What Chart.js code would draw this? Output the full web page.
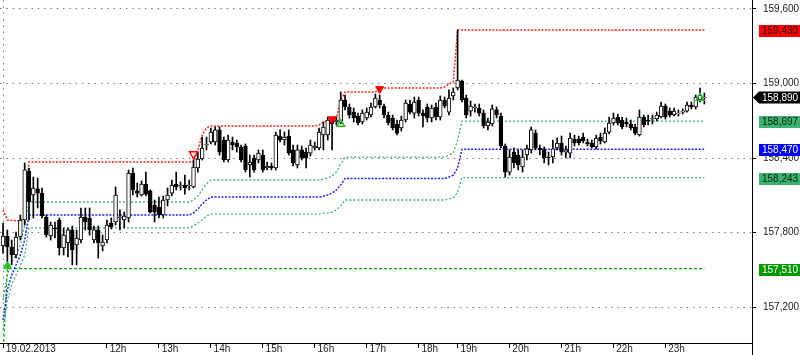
<!DOCTYPE html>
<html><head><meta charset="utf-8">
<script src="https://cdn.jsdelivr.net/npm/chart.js@4.4.0/dist/chart.umd.min.js"></script>
<style>html,body{margin:0;padding:0;background:#fff;overflow:hidden}</style>
</head><body>
<canvas id="c" width="800" height="355"></canvas>
<script>
// ---- candle data (5-minute bars, index 0 = 10:00) ----
const openP = [
157692,157772,157684,157619,157764,157901,158295,158102,158151,158118,
157925,157772,157837,157901,157676,157716,157821,157700,157740,157925,
157917,157740,157821,157692,157740,157877,157885,157917,157901,157917,
158279,158135,158102,158191,158135,158022,158006,157941,158062,158118,
158191,158175,158183,158175,158167,158320,158392,158505,158529,158529,
158626,158545,158384,158529,158521,158489,158497,158344,158400,158384,
158424,158320,158336,158320,158577,158545,158577,158465,158344,158465,
158448,158440,158481,158481,158585,158585,158698,158690,158682,158867,
158811,158770,158738,158690,158722,158746,158811,158867,158819,158746,
158722,158674,158642,158706,158835,158762,158867,158762,158811,158722,
158811,158730,158867,158770,158899,158964,159020,158883,158778,158803,
158803,158762,158658,158674,158787,158738,158497,158287,158448,158424,
158328,158424,158465,158601,158481,158465,158408,158408,158481,158521,
158448,158440,158553,158553,158569,158529,158521,158489,158569,158529,
158609,158682,158730,158706,158690,158674,158650,158585,158730,158706,
158714,158714,158730,158819,158778,158746,158754,158770,158778,158827,
158811,158867,158883];
const highP = [
157877,157821,157740,157804,157941,158360,158320,158247,158239,158159,
157941,157885,157885,157917,157837,157837,157853,157821,157998,157998,
157998,157853,157853,157780,157901,157917,158167,157982,157965,158304,
158320,158199,158215,158287,158143,158062,158086,158094,158159,158223,
158287,158207,158263,158223,158384,158448,158569,158569,158642,158650,
158650,158569,158585,158569,158545,158505,158513,158424,158424,158465,
158465,158368,158360,158609,158626,158609,158626,158505,158505,158497,
158481,158545,158529,158642,158690,158730,158722,158730,158931,158907,
158835,158803,158762,158787,158803,158843,158915,158907,158835,158770,
158746,158706,158738,158867,158867,158891,158891,158787,158835,158827,
158843,158899,158891,158948,158964,159430,159028,158907,158859,158835,
158835,158787,158722,158827,158811,158762,158513,158465,158481,158465,
158465,158505,158650,158626,158505,158489,158448,158545,158561,158577,
158497,158601,158585,158577,158601,158553,158545,158585,158601,158642,
158730,158762,158754,158730,158722,158706,158674,158787,158746,158746,
158746,158770,158851,158835,158803,158803,158787,158795,158851,158851,
158907,158964,158923];
const lowP = [
157635,157563,157539,157595,157740,157861,157901,157917,157998,157917,
157764,157740,157756,157619,157619,157603,157539,157539,157716,157821,
157780,157716,157595,157652,157716,157829,157861,157821,157837,157885,
158102,158086,158094,158094,157957,157885,157917,157917,158014,158094,
158143,158143,158110,158143,158159,158287,158384,158465,158513,158505,
158424,158368,158368,158465,158448,158368,158287,158247,158287,158360,
158287,158304,158304,158304,158529,158505,158424,158336,158320,158384,
158320,158416,158465,158465,158465,158545,158465,158666,158674,158787,
158722,158690,158666,158674,158706,158730,158803,158803,158722,158666,
158626,158585,158617,158690,158754,158722,158738,158650,158690,158690,
158706,158706,158803,158746,158867,158948,158851,158722,158738,158770,
158738,158642,158626,158658,158722,158481,158247,158263,158320,158304,
158287,158384,158440,158465,158424,158360,158344,158360,158465,158424,
158400,158400,158497,158505,158521,158497,158481,158473,158513,158521,
158593,158666,158666,158634,158650,158626,158585,158577,158650,158666,
158674,158698,158722,158714,158730,158738,158738,158754,158770,158795,
158795,158851,158835];
const closeP = [
157772,157684,157619,157764,157901,158304,158046,158159,158118,157933,
157780,157861,157829,157676,157780,157821,157660,157756,157925,157885,
157821,157821,157716,157724,157861,157845,158102,157925,157933,158279,
158143,158118,158191,158110,157965,157965,157941,158062,158102,158183,
158167,158183,158159,158183,158328,158392,158481,158513,158609,158626,
158448,158384,158545,158505,158489,158384,158304,158368,158304,158440,
158304,158336,158320,158585,158545,158569,158440,158360,158465,158400,
158400,158505,158497,158609,158650,158706,158674,158706,158867,158811,
158746,158722,158682,158762,158770,158811,158883,158827,158746,158682,
158642,158601,158706,158843,158770,158851,158762,158738,158722,158803,
158730,158867,158819,158883,158931,159028,158867,158746,158819,158811,
158762,158658,158690,158795,158746,158497,158287,158408,158360,158344,
158408,158473,158626,158481,158465,158400,158400,158473,158521,158448,
158465,158561,158521,158521,158537,158513,158489,158561,158537,158601,
158682,158722,158682,158650,158674,158642,158601,158730,158666,158698,
158722,158746,158819,158730,158746,158778,158762,158778,158827,158811,
158891,158907,158890];

// ---- indicator lines (bar index -> price at the visible breakpoints) ----
const resistanceIdx = [0,1,4,5,6,44,45,46,47,48,72,73,74,75,76,77,78,79,86,87,101,102,103,104,105,162];
const resistanceVal = [157982,157901,157893,157925,158368,158368,158465,158585,158642,158658,158658,158666,158690,158698,158706,158722,158867,158931,158931,158964,158964,158972,158996,159012,159430,159430];
const bandIdx   = [0,1,2,3,4,5,6,43,44,45,46,47,48,73,74,75,76,77,78,79,102,103,104,105,106,162];
const upperBand = [157257,157458,157563,157619,157700,157861,158046,158046,158062,158094,158143,158191,158223,158223,158231,158239,158255,158287,158352,158408,158408,158424,158440,158545,158697,158697];
const midBand   = [157096,157338,157458,157539,157619,157740,157941,157941,157957,157990,158030,158062,158086,158086,158094,158102,158118,158143,158183,158236,158236,158247,158263,158320,158470,158470];
const lowerBand = [157016,157257,157379,157458,157539,157619,157837,157837,157853,157877,157901,157933,157949,157949,157957,157957,157965,157982,158014,158062,158062,158070,158078,158126,158243,158243];
const supportIdx = [0,1,162];
const supportVal = [156800,157510,157510];

// ---- signal markers ----
const buySolidIdx = [1],        buySolidVal = [157531];
const buyHollowIdx = [78,161],  buyHollowVal = [158674,158883];
const sellSolidIdx = [76,87],   sellSolidVal = [158714,158956];
const sellHollowIdx = [44],     sellHollowVal = [158432];

// ---- axes ----
const xTickIdx = [0,24,36,48,60,72,84,96,105,117,129,141,153];
const xTickLabels = ['19.02.2013','12h','13h','14h','15h','16h','17h','18h','19h','20h','21h','22h','23h'];
const yTicks = [157200,157800,158400,159000,159600];
const tagValues = [159430,158890,158697,158470,158243,157510];
const tagStyles = [
  {bg:'#ff0000', fg:'#200000', arrow:false},
  {bg:'#000000', fg:'#ffffff', arrow:true},
  {bg:'#3cb371', fg:'#08200f', arrow:false},
  {bg:'#0000ff', fg:'#ffffff', arrow:false},
  {bg:'#3cb371', fg:'#08200f', arrow:false},
  {bg:'#009a00', fg:'#ffffff', arrow:false}
];

const FONT = {family:"'Liberation Sans', Arial, sans-serif", size:10};
const pts = (xs, ys) => xs.map((x, k) => ({x, y: ys[k]}));
const bodies = openP.map((o, i) => ({x: i, y: [o, closeP[i]]}));
const wicks = openP.map((o, i) => ({x: i, y: [lowP[i], highP[i]]}));
const fmt = v => Math.round(v).toLocaleString('en-US');

const lineDs = (xs, ys, color, dash, w) => ({
  type:'line', data: pts(xs, ys), borderColor: color, borderWidth: w, borderDash: dash,
  pointRadius: 0, tension: 0, fill: false, order: 3
});
const markDs = (xs, ys, color, filled, down) => ({
  type:'scatter', data: pts(xs, ys), pointStyle:'triangle', pointRadius: 4.6,
  rotation: down ? 180 : 0, backgroundColor: filled ? color : 'rgba(255,255,255,0)',
  borderColor: color, borderWidth: filled ? 1 : 1.4, order: 0
});

const tagPlugin = {
  id:'tags',
  afterDraw(chart) {
    const ctx = chart.ctx, ys = chart.scales.y, ca = chart.chartArea;
    ctx.save();
    ctx.strokeStyle = '#000'; ctx.lineWidth = 1;
    ctx.beginPath(); ctx.moveTo(Math.round(ca.right) + 0.5, ca.bottom); ctx.lineTo(Math.round(ca.right) + 0.5, chart.height); ctx.stroke();
    ctx.font = "10px 'Liberation Sans', Arial, sans-serif";
    ctx.textBaseline = 'middle'; ctx.textAlign = 'left';
    tagValues.forEach((v, k) => {
      const st = tagStyles[k];
      const y = Math.round(ys.getPixelForValue(v));
      const x0 = ca.right + 7, h = 11;
      ctx.fillStyle = st.bg;
      ctx.beginPath();
      if (st.arrow) {
        ctx.moveTo(ca.right + 1, y + 0.5);
        ctx.lineTo(x0, y - 5.5); ctx.lineTo(chart.width, y - 5.5);
        ctx.lineTo(chart.width, y + 6.5); ctx.lineTo(x0, y + 6.5); ctx.closePath();
      } else {
        ctx.rect(x0, y - 5, chart.width - x0, h + 1);
      }
      ctx.fill();
      ctx.fillStyle = st.fg;
      ctx.fillText(fmt(v), x0 + 3, y + 1);
    });
    ctx.restore();
  }
};

new Chart(document.getElementById('c'), {
  type: 'bar',
  data: { datasets: [
    markDs(buySolidIdx, buySolidVal, '#22c322', true, false),
    markDs(buyHollowIdx, buyHollowVal, '#22b822', false, false),
    markDs(sellSolidIdx, sellSolidVal, '#ff0000', true, true),
    markDs(sellHollowIdx, sellHollowVal, '#ff0000', false, true),
    { type:'bar', data: bodies, grouped:false, barThickness: 3.8, borderSkipped:false,
      backgroundColor: c => (closeP[c.dataIndex] > openP[c.dataIndex] ? '#ffffff' : '#000000'),
      borderColor:'#000', borderWidth: 1, order: 1 },
    { type:'bar', data: wicks, grouped:false, barThickness: 1, borderWidth: 0,
      backgroundColor:'#000', order: 2 },
    lineDs(resistanceIdx, resistanceVal, '#ff2020', [2,1.5], 1.5),
    lineDs(bandIdx, upperBand, '#3cb371', [2,2], 1.3),
    lineDs(bandIdx, midBand, '#2020ff', [2,1.5], 1.5),
    lineDs(bandIdx, lowerBand, '#3cb371', [2,2], 1.3),
    lineDs(supportIdx, supportVal, '#00a800', [3,2], 1.2)
  ]},
  options: {
    responsive:false, maintainAspectRatio:false, animation:false, devicePixelRatio:1,
    layout:{padding:0, autoPadding:false},
    plugins:{legend:{display:false}, tooltip:{enabled:false}},
    scales:{
      x:{ type:'linear', min:-0.7, max:173, offset:false, bounds:'data',
        afterBuildTicks: s => { s.ticks = xTickIdx.map(v => ({value:v})); },
        afterFit: s => { s.height = 12; s.paddingLeft = 0; s.paddingRight = 0; },
        grid:{ offset:false, drawOnChartArea:true, lineWidth:1, tickLength:5, tickColor:'#000', tickWidth:1, tickBorderDash:[],
          color: c => (c.tick && c.tick.value === 0) ? '#7a7a7a' : 'rgba(0,0,0,0)' },
        border:{ display:true, color:'#000', width:1, dash:[1.5,4.8] },
        ticks:{ autoSkip:false, maxRotation:0, minRotation:0, align:'start', padding:-5, color:'#222', font:FONT,
          callback: v => { const k = xTickIdx.indexOf(v); return k < 0 ? '' : ' ' + xTickLabels[k]; } }
      },
      y:{ type:'linear', position:'right', min:156911, max:159672, beginAtZero:false, bounds:'data',
        afterBuildTicks: s => { s.ticks = yTicks.map(v => ({value:v})); },
        afterFit: s => { s.width = 48; s.paddingTop = 0; s.paddingBottom = 0; },
        grid:{ color:'#7a7a7a', lineWidth:1, tickLength:4, tickColor:'#000', tickWidth:1, tickBorderDash:[] },
        border:{ display:true, color:'#000', width:1, dash:[1.5,4.8] },
        ticks:{ padding:7, color:'#222', font:FONT, callback: v => fmt(v) }
      }
    }
  },
  plugins:[tagPlugin]
});
</script>
</body></html>
